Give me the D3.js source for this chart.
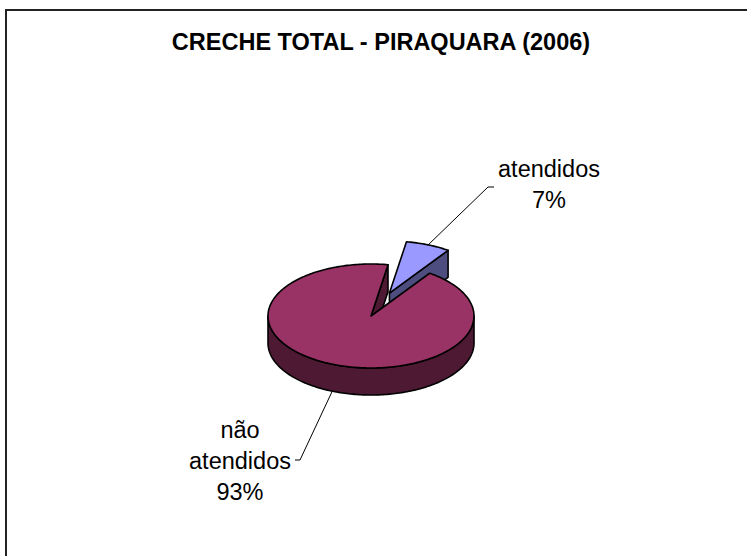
<!DOCTYPE html>
<html>
<head>
<meta charset="utf-8">
<script src="https://cdnjs.cloudflare.com/ajax/libs/d3/7.8.5/d3.min.js"></script>
<style>
body { margin: 0; background: #fff; }
svg { display: block; }
text { font-family: Arial, "Liberation Sans", sans-serif; fill: #000; }
</style>
</head>
<body>
<svg width="747" height="556"></svg>
<script>
var title = "CRECHE TOTAL - PIRAQUARA (2006)";
var categories = ["atendidos", "não atendidos"];
var values = [7, 93];
var labelLines = [["atendidos", "7%"], ["não", "atendidos", "93%"]];
var topColors = ["#9999ff", "#993366"];
var sideColors = ["#4d4d80", "#4d1933"];
var exploded = [0.476, 0];

var svg = d3.select("svg"),
    width = +svg.attr("width"),
    height = +svg.attr("height");

// frame (only top and left edges show in the picture)
svg.append("rect")
    .attr("x", 6).attr("y", 10)
    .attr("width", width).attr("height", height)
    .attr("fill", "#fff").attr("stroke", "#222").attr("stroke-width", 2);

svg.append("text")
    .attr("x", 381).attr("y", 50)
    .attr("text-anchor", "middle")
    .style("font-size", "23.5px").style("font-weight", "bold")
    .text(title);

var cx = 371, cy = 316, rx = 103, ry = 52, depth = 27;
var rot = 9.5 * Math.PI / 180;

var x = d3.scaleLinear().domain([-1, 1]).range([cx - rx, cx + rx]);
var y = d3.scaleLinear().domain([-1, 1]).range([cy + ry, cy - ry]);

var pie = d3.pie().sort(null).startAngle(rot).endAngle(rot + 2 * Math.PI).value(function(d) { return d; });
var arcs = pie(values);

var line = d3.line();

function pt(a, k, o, dz) {
  return [x(k * Math.sin(a) + o[0]), y(k * Math.cos(a) + o[1]) + (dz || 0)];
}

function arcPts(a0, a1, o, dz) {
  var pts = [], n = Math.max(2, Math.ceil((a1 - a0) / 0.02));
  for (var i = 0; i <= n; i++) pts.push(pt(a0 + (a1 - a0) * i / n, 1, o, dz));
  return pts;
}

arcs.forEach(function(d, i) {
  var mid = (d.startAngle + d.endAngle) / 2;
  d.mid = mid;
  d.off = [exploded[i] * Math.sin(mid), exploded[i] * Math.cos(mid)];
});

// back slices first
var order = arcs.slice().sort(function(a, b) { return Math.cos(b.mid) - Math.cos(a.mid); });

var g = svg.append("g")
    .attr("stroke", "#000").attr("stroke-width", 1.6).attr("stroke-linejoin", "round");

order.forEach(function(d) {
  var i = d.index, o = d.off;
  var c = pt(0, 0, o), cb = pt(0, 0, o, depth);

  // cut faces turned toward the viewer
  [[d.startAngle, Math.sin(d.startAngle) < 0], [d.endAngle, Math.sin(d.endAngle) > 0]].forEach(function(e) {
    if (!e[1]) return;
    var p = pt(e[0], 1, o), pb = pt(e[0], 1, o, depth);
    g.append("path").attr("d", line([c, p, pb, cb]) + "Z").attr("fill", sideColors[i]);
  });

  // front wall
  var w0 = Math.max(d.startAngle, Math.PI / 2), w1 = Math.min(d.endAngle, 3 * Math.PI / 2);
  if (w1 > w0) {
    var top = arcPts(w0, w1, o, 0), bot = arcPts(w0, w1, o, depth).reverse();
    g.append("path").attr("d", line(top.concat(bot)) + "Z").attr("fill", sideColors[i]);
  }

  // top face
  g.append("path")
      .attr("d", line([c].concat(arcPts(d.startAngle, d.endAngle, o, 0))) + "Z")
      .attr("fill", topColors[i]);
});

// labels with leader lines
var labelPos = [[549, 177, 488, 187, 494], [240, 438, 300, 460, 295]];
arcs.forEach(function(d, i) {
  var lp = labelPos[i];
  var anchor = Math.cos(d.mid) > 0 ? pt(d.mid, 1, d.off) : pt(d.mid, 1, d.off, depth);
  svg.append("path")
      .attr("d", line([anchor, [lp[2], lp[3]], [lp[4], lp[3]]]))
      .attr("fill", "none").attr("stroke", "#000").attr("stroke-width", 1);
  var t = svg.append("text")
      .attr("text-anchor", "middle")
      .style("font-size", "23.5px");
  labelLines[i].forEach(function(s, j) {
    t.append("tspan").attr("x", lp[0]).attr("y", lp[1] + j * 31).text(s);
  });
});
</script>
</body>
</html>
